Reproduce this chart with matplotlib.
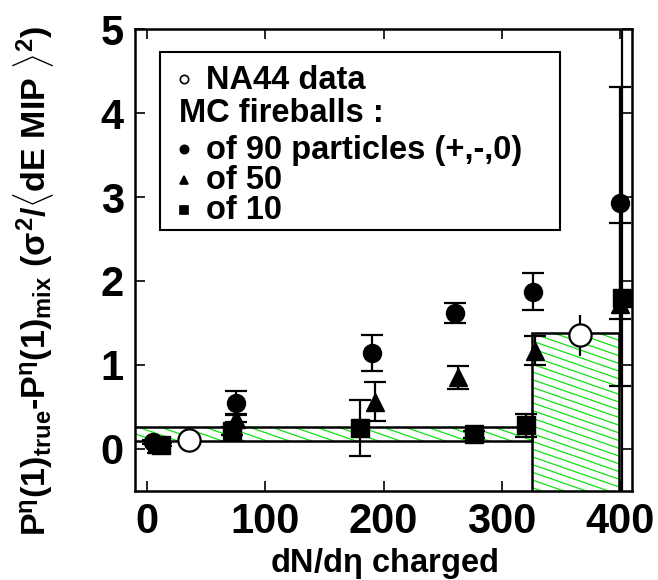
import numpy as np
import matplotlib
matplotlib.use("Agg")
from matplotlib import pyplot as plt
from matplotlib.patches import Rectangle

plt.rcParams["font.family"] = ["Liberation Sans", "DejaVu Sans"]
plt.rcParams["font.weight"] = "bold"
plt.rcParams["mathtext.fontset"] = "custom"
plt.rcParams["mathtext.rm"] = "Liberation Sans:bold"
plt.rcParams["mathtext.it"] = "Liberation Sans:bold"
plt.rcParams["mathtext.bf"] = "Liberation Sans:bold"

# NA44 data (open circles)
na44_x = [36, 366]
na44_y = [0.10, 1.35]
na44_err = [0.0, 0.24]

# MC fireballs of 90 particles (filled circles)
mc90_x = [5, 75, 190, 260, 326, 400]
mc90_y = [0.08, 0.55, 1.14, 1.62, 1.87, 2.93]
mc90_err = [0.02, 0.14, 0.21, 0.12, 0.22, 1.38]

# MC fireballs of 50 (triangles)
mc50_x = [8, 75, 193, 263, 328, 400]
mc50_y = [0.06, 0.36, 0.56, 0.85, 1.17, 1.72]
mc50_err = [0.02, 0.04, 0.23, 0.14, 0.17, 0.97]

# MC fireballs of 10 (squares)
mc10_x = [12, 72, 180, 276, 320, 401]
mc10_y = [0.05, 0.21, 0.245, 0.17, 0.28, 1.80]
mc10_err = [0.02, 0.05, 0.33, 0.04, 0.14, 8.0]

# hatched bands (x0, x1, y0, y1)
bands = [(-20, 325, 0.09, 0.26), (325, 398.5, -0.6, 1.38)]

fig = plt.figure(figsize=(6.58, 5.8), dpi=100)
ax = fig.add_axes([0.205, 0.154, 0.756, 0.7955])

slope = -0.0049
step = 0.092
for x0, x1, y0, y1 in bands:
    ax.add_patch(Rectangle((x0, y0), x1 - x0, y1 - y0, facecolor="white",
                           edgecolor="none", zorder=2))
    # hatch lines going down to the right, cut to the band
    drop = -slope * (x1 - x0)
    for c in np.arange(y0 + step / 2, y1 + drop, step):
        xa = max(x0, x0 + (y1 - c) / slope)
        xb = min(x1, x0 + (y0 - c) / slope)
        if xb <= xa:
            continue
        xs = np.array([xa, xb])
        ax.plot(xs, c + slope * (xs - x0), color="#11e011", linewidth=0.9,
                zorder=2.1)
    ax.add_patch(Rectangle((x0, y0), x1 - x0, y1 - y0, facecolor="none",
                           edgecolor="black", linewidth=1.8, zorder=2.2))

ekw = dict(linestyle="none", ecolor="black", elinewidth=1.6, capsize=8,
           capthick=1.6, zorder=3)
ax.errorbar(mc90_x, mc90_y, yerr=mc90_err, fmt="o", color="black", ms=13, **ekw)
ax.errorbar(mc50_x, mc50_y, yerr=mc50_err, fmt="^", color="black", ms=13, **ekw)
ax.errorbar(mc10_x, mc10_y, yerr=mc10_err, fmt="s", color="black", ms=13, **ekw)
ax.errorbar(na44_x, na44_y, yerr=na44_err, fmt="o", mfc="white", mec="black",
            mew=1.6, ms=16, linestyle="none", ecolor="black", elinewidth=1.6,
            capsize=0, zorder=3)

ax.set_xlim(-10, 410)
ax.set_ylim(-0.5, 5)
ax.set_xticks([0, 100, 200, 300, 400])
ax.set_yticks([0, 1, 2, 3, 4, 5])
ax.tick_params(direction="in", length=7, width=1.2, top=True, right=True,
               labelsize=30, pad=8)
for lab in ax.get_xticklabels() + ax.get_yticklabels():
    lab.set_fontweight("bold")
for sp in ax.spines.values():
    sp.set_linewidth(1.8)

ax.set_xlabel(r"dN/d$\eta$ charged", fontsize=23.5, fontweight="bold", labelpad=3)
ax.set_ylabel(r"P$^{\eta}$(1)$_{\rm true}$-P$^{\eta}$(1)$_{\rm mix}$ "
              r"($\sigma^2$/$\langle$dE MIP $\rangle^2$)",
              fontsize=24.5, fontweight="bold")
ax.yaxis.set_label_coords(-0.158, 0.455)

# legend drawn by hand
ax.add_patch(Rectangle((0.0496, 0.566), 0.805, 0.384, transform=ax.transAxes,
                       facecolor="white", edgecolor="black", linewidth=1.5,
                       zorder=4))
leg_rows = [
    ("o", "white", "NA44 data", 0.871, 0.143),
    (None, None, "MC fireballs :", 0.799, 0.0885),
    ("o", "black", "of 90 particles (+,-,0)", 0.719, 0.143),
    ("^", "black", "of 50", 0.653, 0.143),
    ("s", "black", "of 10", 0.588, 0.143),
]
for mk, fc, label, yy, xt in leg_rows:
    if mk is not None:
        ax.plot([0.0985], [yy + 0.021], marker=mk, mfc=fc, mec="black", mew=1.2,
                ms=6, transform=ax.transAxes, zorder=5, clip_on=False)
    ax.text(xt, yy, label, transform=ax.transAxes, fontsize=23.5,
            fontweight="bold", va="baseline", ha="left", zorder=5)

fig.savefig("out.png", dpi=100)
